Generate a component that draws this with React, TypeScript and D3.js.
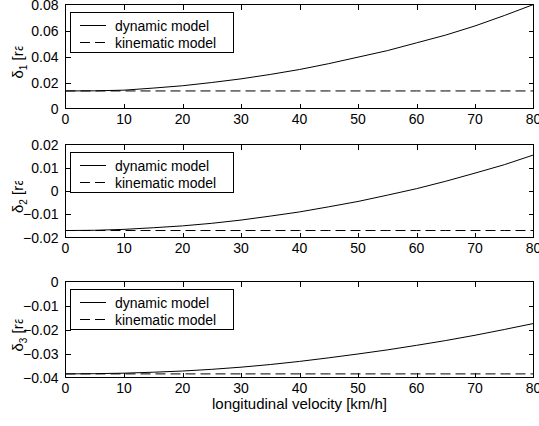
import React from "react";
import * as d3 from "d3";

// Longitudinal velocity samples [km/h]
const velocity = [0, 5, 10, 15, 20, 25, 30, 35, 40, 45, 50, 55, 60, 65, 70, 75, 80];

// Steering angles from the dynamic model [rad]
const dynamic1 = [0.0135, 0.0136, 0.0141, 0.0157, 0.0175, 0.02, 0.0228, 0.0262, 0.03, 0.0345, 0.0395, 0.0445, 0.0505, 0.0565, 0.0635, 0.0715, 0.08];
const dynamic2 = [-0.017, -0.0169, -0.0165, -0.0158, -0.015, -0.0139, -0.0125, -0.0108, -0.009, -0.0068, -0.0045, -0.0018, 0.001, 0.0042, 0.0077, 0.0113, 0.0155];
const dynamic3 = [-0.0385, -0.0384, -0.0382, -0.0378, -0.0373, -0.0366, -0.0357, -0.0346, -0.0333, -0.0318, -0.0302, -0.0285, -0.0266, -0.0246, -0.0224, -0.02, -0.0175];

// Steering angles from the kinematic model [rad] (constant over velocity)
const kinematic = [0.0135, -0.017, -0.0385];

// Axis setup
const xTicks = [0, 10, 20, 30, 40, 50, 60, 70, 80];
const yDomains: [number, number][] = [[0, 0.08], [-0.02, 0.02], [-0.04, 0]];
const yTicks = [
  [0, 0.02, 0.04, 0.06, 0.08],
  [-0.02, -0.01, 0, 0.01, 0.02],
  [-0.04, -0.03, -0.02, -0.01, 0],
];
const ySubscripts = ["1", "2", "3"];
const legendLabels = ["dynamic model", "kinematic model"];
const xAxisTitle = "longitudinal velocity [km/h]";

const W = 539;
const H = 426;
const LEFT = 65.5;
const RIGHT = 533.5;
const panels = [
  { top: 4.5, bottom: 108.5 },
  { top: 144.5, bottom: 237.5 },
  { top: 281.5, bottom: 377.5 },
];
const FONT = "'Liberation Sans', Arial, Helvetica, sans-serif";
const TICK = 5;

const fmt = (v: number) => {
  if (Math.abs(v) < 1e-12) return "0";
  return d3.format(".2f")(v);
};

function Panel({ idx }: { idx: number }) {
  const { top, bottom } = panels[idx];
  const x = d3.scaleLinear().domain([0, 80]).range([LEFT, RIGHT]);
  const y = d3.scaleLinear().domain(yDomains[idx]).range([bottom, top]);
  const dyn = [dynamic1, dynamic2, dynamic3][idx];
  const line = d3
    .line<number>()
    .x((_, i) => x(velocity[i]))
    .y((d) => y(d));
  const kin = velocity.map(() => kinematic[idx]);
  const mid = (top + bottom) / 2;
  const clipId = `ylab-clip-${idx}`;
  const lgX = 70.5;
  const lgY = top + 7;
  const labStart = mid + 22;
  return (
    <g>
      <defs>
        <clipPath id={clipId}>
          <rect x={0} y={mid - 10} width={40} height={40} />
        </clipPath>
      </defs>
      {/* data lines */}
      <path d={line(dyn) || ""} fill="none" stroke="#000" strokeWidth={1} />
      <path d={line(kin) || ""} fill="none" stroke="#000" strokeWidth={1} strokeDasharray="10,5" />
      {/* frame */}
      <rect x={LEFT} y={top} width={RIGHT - LEFT} height={bottom - top} fill="none" stroke="#000" strokeWidth={1} shapeRendering="crispEdges" />
      {/* x ticks */}
      {xTicks.map((t) => {
        const px = Math.round(x(t)) + 0.5;
        return (
          <g key={`xt${t}`} shapeRendering="crispEdges">
            {t !== 0 && t !== 80 && (
              <>
                <line x1={px} x2={px} y1={bottom} y2={bottom - TICK} stroke="#000" />
                <line x1={px} x2={px} y1={top} y2={top + TICK} stroke="#000" />
              </>
            )}
            <text x={x(t)} y={bottom + 15} fontFamily={FONT} fontSize={14} textAnchor="middle" fill="#000">
              {t}
            </text>
          </g>
        );
      })}
      {/* y ticks */}
      {yTicks[idx].map((t, i) => {
        const py = Math.round(y(t)) + 0.5;
        const edge = i === 0 || i === yTicks[idx].length - 1;
        return (
          <g key={`yt${t}`} shapeRendering="crispEdges">
            {!edge && (
              <>
                <line x1={LEFT} x2={LEFT + TICK} y1={py} y2={py} stroke="#000" />
                <line x1={RIGHT} x2={RIGHT - TICK} y1={py} y2={py} stroke="#000" />
              </>
            )}
            <text x={LEFT - 7} y={y(t) + 5} fontFamily={FONT} fontSize={14} textAnchor="end" fill="#000">
              {fmt(t)}
            </text>
          </g>
        );
      })}
      {/* y label */}
      <g clipPath={`url(#${clipId})`}>
        <text
          transform={`translate(23, ${labStart}) rotate(-90)`}
          fontFamily={FONT}
          fontSize={15}
          fill="#000"
        >
          δ
          <tspan fontSize={10} dy={4}>{ySubscripts[idx]}</tspan>
          <tspan dy={-4}> [rad]</tspan>
        </text>
      </g>
      {/* legend */}
      <rect x={lgX} y={Math.round(lgY) + 0.5} width={163} height={40} fill="white" stroke="#000" shapeRendering="crispEdges" />
      {legendLabels.map((lab, i) => {
        const ly = Math.round(lgY + 13 + i * 17) + 0.5;
        return (
          <g key={lab}>
            <line x1={80} x2={106} y1={ly} y2={ly} stroke="#000" strokeDasharray={i === 1 ? "10,5" : undefined} />
            <text x={115} y={ly + 5} fontFamily={FONT} fontSize={14} fill="#000">
              {lab}
            </text>
          </g>
        );
      })}
    </g>
  );
}

export default function App() {
  return (
    <svg
      width={W}
      height={H}
      viewBox={`0 0 ${W} ${H}`}
      style={{ position: "absolute", left: 0, top: 0, background: "white" }}
    >
      <rect x={0} y={0} width={W} height={H} fill="white" />
      {panels.map((_, i) => (
        <Panel key={i} idx={i} />
      ))}
      <text x={(LEFT + RIGHT) / 2} y={409} fontFamily={FONT} fontSize={15} textAnchor="middle" fill="#000">
        {xAxisTitle}
      </text>
    </svg>
  );
}
